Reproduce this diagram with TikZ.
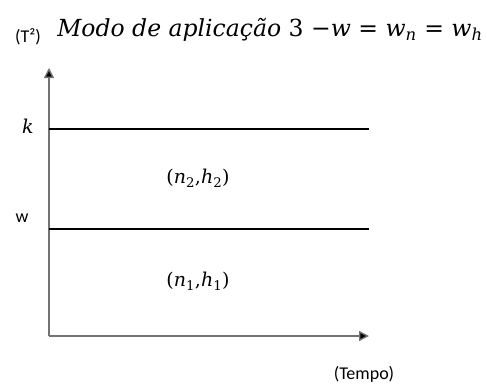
\documentclass[tikz,border=0pt]{standalone}
\usepackage{fontspec}
\newfontfamily\calib{Carlito}
\newfontfamily\dvs{DejaVu Serif}
\newcommand{\itv}[1]{\textit{#1}}
\usetikzlibrary{arrows.meta}
\begin{document}
\begin{tikzpicture}[x=1pt,y=-1pt,
  axis/.style={draw=black!55, line width=1.3pt, -{Triangle[length=10pt,width=10pt,fill=black]}},
  level/.style={draw=black, line width=1.1pt},
  lbl/.style={inner sep=0pt, font=\calib\fontsize{18}{20}\selectfont},
  mlbl/.style={inner sep=0pt, font=\dvs\fontsize{19}{21}\selectfont}]
\useasboundingbox (0,0) rectangle (487,383);
\coordinate (o) at (49,336);
\coordinate (ytip) at (49,68);
\coordinate (xtip) at (369,336);
\coordinate (k0) at (49,129);
\coordinate (k1) at (369,129);
\coordinate (w0) at (49,229);
\coordinate (w1) at (369,229);
\node[mlbl, font=\dvs\fontsize{23.5}{26}\selectfont] (title) at (270,30)
  {\itv{Modo de aplicação} 3 −\itv{w} = \itv{w}\textsubscript{\itv{n}} = \itv{w}\textsubscript{\itv{h}}};
\node[lbl] (tsq) at (28,37) {(T²)};
\node[mlbl] (klab) at (28,126) {\itv{k}};
\node[lbl] (wlab) at (22,218) {w};
\node[mlbl] (reg2) at (198,178) {(\itv{n}\textsubscript{2},\itv{h}\textsubscript{2})};
\node[mlbl] (reg1) at (198,281) {(\itv{n}\textsubscript{1},\itv{h}\textsubscript{1})};
\node[lbl] (tempo) at (364,374) {(Tempo)};
\draw[axis] (o) -- (ytip);
\draw[axis] (o) -- (xtip);
\draw[level] (k0) -- (k1);
\draw[level] (w0) -- (w1);
\end{tikzpicture}
\end{document}
